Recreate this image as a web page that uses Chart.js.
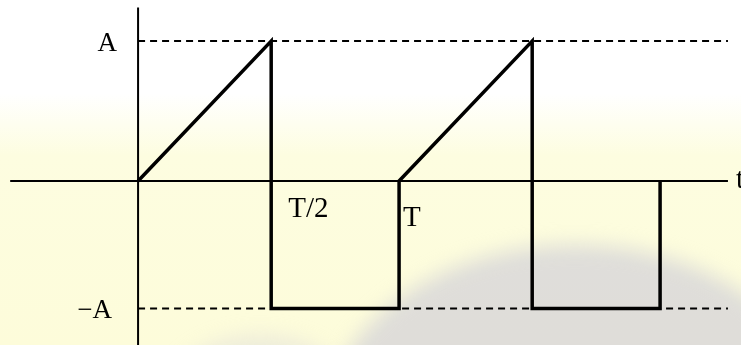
<!DOCTYPE html>
<html>
<head>
<meta charset="utf-8">
<script src="https://cdn.jsdelivr.net/npm/chart.js@4.4.1/dist/chart.umd.min.js"></script>
<style>
  html, body { margin: 0; padding: 0; background: #fff; }
  #wrap { width: 741px; height: 345px; position: relative; }
</style>
</head>
<body>
<div id="wrap"><canvas id="wave-chart"></canvas></div>
<script>
// time in periods T, amplitude in units of A (lower level is drawn a bit closer to the axis)
const waveT = [0, 0.51, 0.51, 1, 1, 1.51, 1.51, 2, 2];
const waveV = [0, 1, -0.91, -0.91, 0, 1, -0.91, -0.91, 0];
const levelT = [0, 2.26];
const levelHigh = [1, 1];
const levelLow = [-0.91, -0.91];
const timeAxisT = [-0.49, 2.26];
const timeAxisV = [0, 0];
const ampAxisT = [0, 0];
const ampAxisV = [1.24, -1.2];
const yTickValues = [1, -0.91];
const yTickLabels = ['A', '\u2212A'];
const xTickValues = [0.51, 1];
const xTickLabels = ['T/2', 'T'];
const axisName = 't';

function pts(xs, ys) {
  return xs.map((x, i) => ({ x: x, y: ys[i] }));
}

// light yellow page with a faint grey dome, like the scanned slide behind the figure
const backdrop = {
  id: 'backdrop',
  beforeDraw(chart) {
    const ctx = chart.ctx;
    const w = chart.width, h = chart.height;
    ctx.save();
    const g = ctx.createLinearGradient(0, 0, 0, h);
    g.addColorStop(0, '#ffffff');
    g.addColorStop(0.27, '#ffffff');
    g.addColorStop(0.45, '#fdfde0');
    g.addColorStop(1, '#fdfcda');
    ctx.fillStyle = g;
    ctx.fillRect(0, 0, w, h);
    ctx.filter = 'blur(10px)';
    ctx.fillStyle = 'rgba(210, 208, 216, 0.7)';
    ctx.beginPath();
    ctx.ellipse(575, 430, 250, 185, 0, 0, Math.PI * 2);
    ctx.fill();
    ctx.fillStyle = 'rgba(215, 213, 220, 0.4)';
    ctx.beginPath();
    ctx.ellipse(260, 395, 90, 60, 0, 0, Math.PI * 2);
    ctx.fill();
    ctx.restore();
  }
};

const labels = {
  id: 'labels',
  afterDatasetsDraw(chart) {
    const ctx = chart.ctx;
    const xs = chart.scales.x, ys = chart.scales.y;
    ctx.save();
    ctx.fillStyle = '#000';
    ctx.font = '27px "Liberation Serif", "DejaVu Serif", serif';
    ctx.textBaseline = 'alphabetic';
    ctx.textAlign = 'right';
    const x0 = xs.getPixelForValue(0);
    yTickValues.forEach((v, i) => {
      const y = ys.getPixelForValue(v);
      ctx.fillText(yTickLabels[i], x0 - (i === 0 ? 21 : 26), y + 10);
    });
    ctx.textAlign = 'left';
    ctx.font = '29px "Liberation Serif", "DejaVu Serif", serif';
    const y0 = ys.getPixelForValue(0);
    xTickValues.forEach((v, i) => {
      const x = xs.getPixelForValue(v);
      ctx.fillText(xTickLabels[i], x + (i === 0 ? 17 : 4), y0 + (i === 0 ? 36 : 45));
    });
    ctx.fillText(axisName, xs.getPixelForValue(timeAxisT[1]) + 8, y0 + 7);
    ctx.restore();
  }
};

new Chart(document.getElementById('wave-chart'), {
  type: 'line',
  data: {
    datasets: [
      { data: pts(waveT, waveV), borderColor: '#000', borderWidth: 3.5, borderJoinStyle: 'miter', tension: 0 },
      { data: pts(levelT, levelHigh), borderColor: '#000', borderWidth: 2, borderDash: [7, 5] },
      { data: pts(levelT, levelLow), borderColor: '#000', borderWidth: 2, borderDash: [7, 5] },
      { data: pts(timeAxisT, timeAxisV), borderColor: '#000', borderWidth: 2 },
      { data: pts(ampAxisT, ampAxisV), borderColor: '#000', borderWidth: 2 }
    ]
  },
  options: {
    responsive: true,
    maintainAspectRatio: false,
    animation: false,
    layout: { padding: 0 },
    elements: { point: { radius: 0 } },
    plugins: { legend: { display: false }, tooltip: { enabled: false } },
    scales: {
      x: { type: 'linear', display: false, min: -0.529, max: 2.31 },
      y: { type: 'linear', display: false, min: -1.171, max: 1.293 }
    }
  },
  plugins: [backdrop, labels]
});
</script>
</body>
</html>
